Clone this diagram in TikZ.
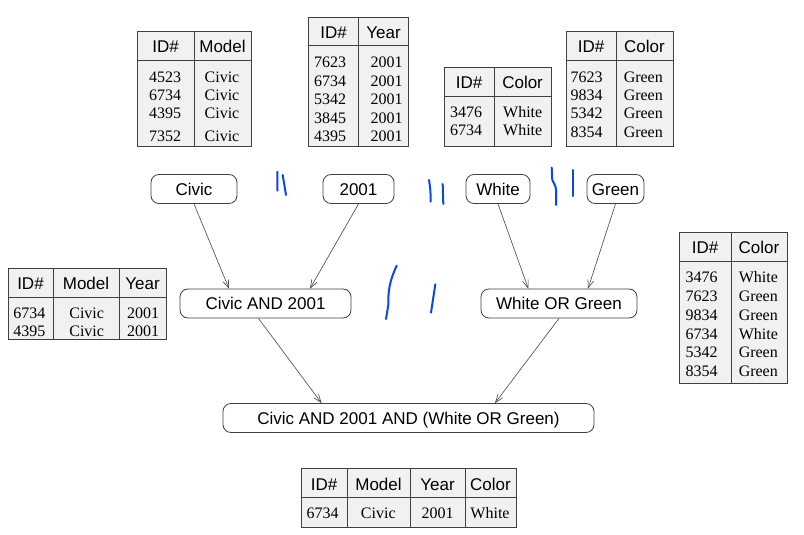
\documentclass[tikz,border=0pt]{standalone}
\usepackage{fontspec}
\setmainfont{Liberation Serif}
\setsansfont{Liberation Sans}
\usetikzlibrary{arrows.meta}
\definecolor{tblfill}{HTML}{F1F1F1}
\definecolor{edgecol}{HTML}{444444}
\definecolor{pencol}{HTML}{0A47E8}
\begin{document}
\begin{tikzpicture}[x=1pt,y=-1pt,
 tbl/.style={draw=black!75, fill=tblfill, line width=0.9pt, inner sep=0pt, anchor=north west},
 tline/.style={draw=black!75, line width=0.9pt},
 hd/.style={font=\sffamily\fontsize{17}{17}\selectfont, inner sep=0pt, text height=12.2pt, text depth=0pt},
 bd/.style={font=\fontsize{16}{16}\selectfont, inner sep=0pt, text height=10.8pt, text depth=0pt},
 op/.style={draw=black!75, rounded corners=8pt, fill=white, font=\sffamily\fontsize{17}{17}\selectfont, inner sep=0pt, text height=12.2pt, text depth=0pt, line width=0.8pt, minimum height=29pt},
 arr/.style={draw=edgecol, line width=0.6pt, -{Straight Barb[length=8pt,width=6pt,line width=0.6pt]}},
 penstroke/.style={draw=pencol, line width=2pt, line cap=round, line join=round},
]
\useasboundingbox (0,0) rectangle (804,535);

% ---------- Table 1: ID# / Model ----------
\node[tbl, minimum width=114pt, minimum height=115pt] (t1) at (137,31) {};
\draw[tline] (137,60) -- (251,60);
\draw[tline] (194,31) -- (194,146);
\node[hd] (t1h1) at (165.5,46) {ID\#};
\node[hd] (t1h2) at (222.5,46) {Model};
\foreach \i/\id/\v/\y in {1/4523/Civic/76.7, 2/6734/Civic/95, 3/4395/Civic/113, 4/7352/Civic/135.7}{
  \node[bd] (t1a\i) at (165,\y) {\id};
  \node[bd] (t1b\i) at (222,\y) {\v};
}

% ---------- Table 2: ID# / Year ----------
\node[tbl, minimum width=100pt, minimum height=129pt] (t2) at (308,17) {};
\draw[tline] (308,45.3) -- (408,45.3);
\draw[tline] (358.7,17) -- (358.7,146);
\node[hd] (t2h1) at (333.5,32) {ID\#};
\node[hd] (t2h2) at (383.5,32) {Year};
\foreach \i/\id/\v/\y in {1/7623/2001/62.3, 2/6734/2001/80.7, 3/5342/2001/99, 4/3845/2001/117.7, 5/4395/2001/136}{
  \node[bd] (t2a\i) at (330,\y) {\id};
  \node[bd] (t2b\i) at (386.7,\y) {\v};
}

% ---------- Table 3: ID# / Color (White) ----------
\node[tbl, minimum width=107pt, minimum height=79pt] (t3) at (444,67) {};
\draw[tline] (444,96) -- (551,96);
\draw[tline] (494.3,67) -- (494.3,146);
\node[hd] (t3h1) at (469,82.5) {ID\#};
\node[hd] (t3h2) at (522.6,82.5) {Color};
\foreach \i/\id/\v/\y in {1/3476/White/112.3, 2/6734/White/130}{
  \node[bd] (t3a\i) at (466,\y) {\id};
  \node[bd] (t3b\i) at (522.7,\y) {\v};
}

% ---------- Table 4: ID# / Color (Green) ----------
\node[tbl, minimum width=107pt, minimum height=115pt] (t4) at (566,31) {};
\draw[tline] (566,60) -- (673,60);
\draw[tline] (616,31) -- (616,146);
\node[hd] (t4h1) at (591,46) {ID\#};
\node[hd] (t4h2) at (644.5,46) {Color};
\foreach \i/\id/\v/\y in {1/7623/Green/76.7, 2/9834/Green/95, 3/5342/Green/113, 4/8354/Green/132}{
  \node[bd] (t4a\i) at (586.7,\y) {\id};
  \node[bd] (t4b\i) at (643.3,\y) {\v};
}

% ---------- Table 5: ID# / Model / Year ----------
\node[tbl, minimum width=158pt, minimum height=71pt] (t5) at (8,268) {};
\draw[tline] (8,297) -- (166,297);
\draw[tline] (53,268) -- (53,339);
\draw[tline] (119,268) -- (119,339);
\node[hd] (t5h1) at (30.5,283) {ID\#};
\node[hd] (t5h2) at (86,283) {Model};
\node[hd] (t5h3) at (142.5,283) {Year};
\foreach \i/\id/\y in {1/6734/313.3, 2/4395/331}{
  \node[bd] (t5a\i) at (29.3,\y) {\id};
  \node[bd] (t5b\i) at (86.7,\y) {Civic};
  \node[bd] (t5c\i) at (143,\y) {2001};
}

% ---------- Table 6: ID# / Color (OR result) ----------
\node[tbl, minimum width=108pt, minimum height=151pt] (t6) at (679,232) {};
\draw[tline] (679,261) -- (787,261);
\draw[tline] (731,232) -- (731,383);
\node[hd] (t6h1) at (705,247.5) {ID\#};
\node[hd] (t6h2) at (759,247.5) {Color};
\foreach \i/\id/\v/\y in {1/3476/White/277.3, 2/7623/Green/296, 3/9834/Green/314.7, 4/6734/White/333.7, 5/5342/Green/352.3, 6/8354/Green/371.3}{
  \node[bd] (t6a\i) at (701.7,\y) {\id};
  \node[bd] (t6b\i) at (758.3,\y) {\v};
}

% ---------- Table 7: final result ----------
\node[tbl, minimum width=215pt, minimum height=59pt] (t7) at (301,468) {};
\draw[tline] (301,497) -- (516,497);
\draw[tline] (347,468) -- (347,527);
\draw[tline] (410,468) -- (410,527);
\draw[tline] (465,468) -- (465,527);
\node[hd] (t7h1) at (324,484) {ID\#};
\node[hd] (t7h2) at (378.5,484) {Model};
\node[hd] (t7h3) at (437.5,484) {Year};
\node[hd] (t7h4) at (490.5,484) {Color};
\node[bd] (t7a) at (322.7,513.3) {6734};
\node[bd] (t7b) at (378.3,513.3) {Civic};
\node[bd] (t7c) at (437.7,513.3) {2001};
\node[bd] (t7d) at (490,513.3) {White};

% ---------- Operator nodes ----------
\node[op, minimum width=86pt] (civic) at (194,189) {Civic};
\node[op, minimum width=71pt] (y2001) at (358.5,189) {2001};
\node[op, minimum width=64pt] (white) at (498,189) {White};
\node[op, minimum width=57pt] (green) at (615.5,189) {Green};
\node[op, minimum width=171pt] (cand) at (265.5,303.5) {Civic AND 2001};
\node[op, minimum width=156pt] (wog) at (559,303.5) {White OR Green};
\node[op, minimum width=371pt] (final) at (408.5,418) {Civic AND 2001 AND (White OR Green)};

% ---------- Connectors ----------
\draw[arr] (civic.south) -- ([xshift=-36.5pt]cand.north);
\draw[arr] (y2001.south) -- ([xshift=44.5pt]cand.north);
\draw[arr] (white.south) -- ([xshift=-30.7pt]wog.north);
\draw[arr] (green.south) -- ([xshift=29pt]wog.north);
\draw[arr] ([xshift=-7pt]cand.south) -- ([xshift=-87pt]final.north);
\draw[arr] (wog.south) -- ([xshift=86.5pt]final.north);

% ---------- Hand-drawn blue marks ----------
\draw[penstroke] (277.3,171.7) -- (277.5,190.7);
\draw[penstroke] (282.7,175) .. controls (283.5,185) .. (286,195);
\draw[penstroke] (429,180) .. controls (430.5,190) .. (430.7,201.7);
\draw[penstroke] (442.7,184) -- (443.3,204);
\draw[penstroke] (551.7,167.7) -- (552.3,180) .. controls (553,183) and (556,185) .. (556,190) -- (556,205);
\draw[penstroke] (572.7,170) -- (572.7,196);
\draw[penstroke] (396.7,265.7) .. controls (390,280) and (388,290) .. (388.3,305) -- (386,319);
\draw[penstroke] (435.3,284.3) -- (431,312.7);
\end{tikzpicture}
\end{document}
